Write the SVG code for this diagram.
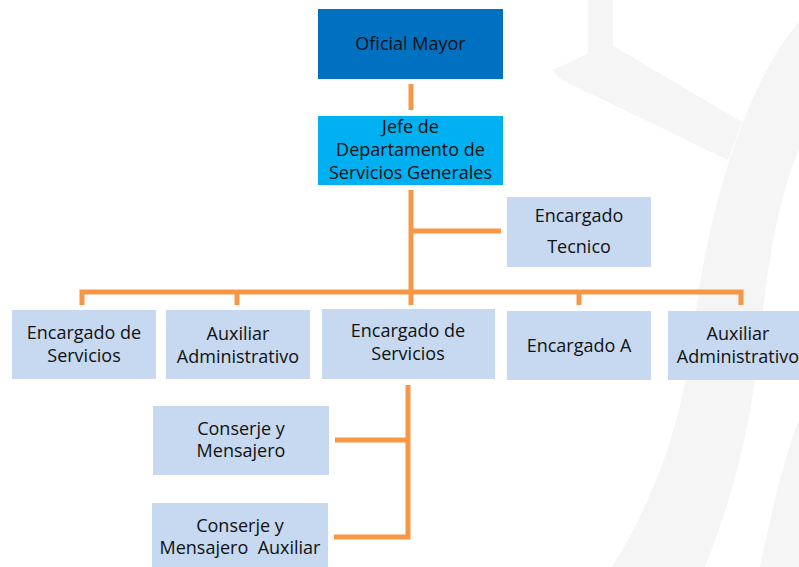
<svg xmlns="http://www.w3.org/2000/svg" width="799" height="567" viewBox="0 0 799 567">
<style>
text{font-family:"Open Sans","Liberation Sans",sans-serif;font-size:18px;fill:#111;text-anchor:middle}
.lt{fill:#C6D9F0}
.con{fill:none;stroke:#F79646;stroke-width:5;stroke-linecap:butt;stroke-linejoin:miter}
.wm{fill:#F5F5F5}
</style>
<rect width="799" height="567" fill="#fff"/>
<g id="watermark">
<path class="wm" d="M588,0 H613 V46 L742,122 L728,160 L562,80 L552,70 L588,54 Z"/>
<path class="wm" d="M799,22 C740,90 705,230 695,320 C685,410 660,490 612,567 H705 C740,480 755,400 762,320 C770,240 785,180 799,150 Z"/>
<path class="wm" d="M799,420 C780,470 770,520 760,567 H799 Z"/>
</g>
<g id="connectors">
<path class="con" d="M411,84 V110"/>
<path class="con" d="M411,190 V305"/>
<path class="con" d="M411,231 H501"/>
<path class="con" d="M82,305 V292 H741 V305"/>
<path class="con" d="M237,292 V305"/>
<path class="con" d="M579,292 V305"/>
<path class="con" d="M408,385 V537 H334"/>
<path class="con" d="M335,440 H408"/>
</g>
<g id="oficial-mayor">
<rect x="318" y="9" width="185" height="70" fill="#0070C0"/>
<text x="410.5" y="50">Oficial Mayor</text>
</g>
<g id="jefe">
<rect x="318" y="116" width="185" height="69" fill="#00B0F0"/>
<text x="410.5" y="133">Jefe de</text>
<text x="410.5" y="156">Departamento de</text>
<text x="410.5" y="179">Servicios Generales</text>
</g>
<g id="encargado-tecnico">
<rect class="lt" x="507" y="197" width="144" height="70"/>
<text x="579" y="222">Encargado</text>
<text x="579" y="253">Tecnico</text>
</g>
<g id="encargado-servicios-1">
<rect class="lt" x="12" y="310" width="144" height="69"/>
<text x="84" y="339">Encargado de</text>
<text x="84" y="362">Servicios</text>
</g>
<g id="auxiliar-1">
<rect class="lt" x="166" y="310" width="144" height="69"/>
<text x="238" y="340">Auxiliar</text>
<text x="238" y="363">Administrativo</text>
</g>
<g id="encargado-servicios-2">
<rect class="lt" x="322" y="309" width="173" height="70"/>
<text x="408" y="337">Encargado de</text>
<text x="408" y="360">Servicios</text>
</g>
<g id="encargado-a">
<rect class="lt" x="507" y="311" width="144" height="69"/>
<text x="579" y="352">Encargado A</text>
</g>
<g id="auxiliar-2">
<rect class="lt" x="668" y="311" width="140" height="69"/>
<text x="738" y="340">Auxiliar</text>
<text x="738" y="363">Administrativo</text>
</g>
<g id="conserje-1">
<rect class="lt" x="153" y="406" width="176" height="69"/>
<text x="241" y="435">Conserje y</text>
<text x="241" y="457">Mensajero</text>
</g>
<g id="conserje-2">
<rect class="lt" x="152" y="503" width="176" height="64"/>
<text x="240" y="532">Conserje y</text>
<text x="240" y="554" xml:space="preserve">Mensajero  Auxiliar</text>
</g>
</svg>
